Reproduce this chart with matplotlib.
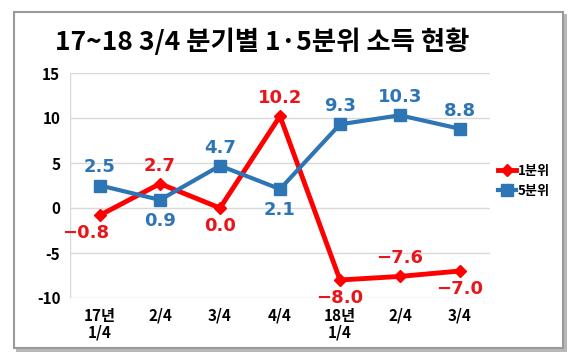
import matplotlib.pyplot as plt
from matplotlib.patches import Rectangle

plt.rcParams['font.family'] = ['Noto Sans CJK KR', 'DejaVu Sans']
plt.rcParams['axes.unicode_minus'] = False

# data
quarters = ['17년\n1/4', '2/4', '3/4', '4/4', '18년\n1/4', '2/4', '3/4']
q1 = [-0.8, 2.7, 0.0, 10.2, -8.0, -7.6, -7.0]
q5 = [2.5, 0.9, 4.7, 2.1, 9.3, 10.3, 8.8]
q1_pos = ['below', 'above', 'below', 'above', 'below', 'above', 'below']
q5_pos = ['above', 'below', 'above', 'below', 'above', 'above', 'above']

red = '#FF0000'
blue = '#2E75B6'

fig = plt.figure(figsize=(5.8, 3.59), dpi=100)

# outer frame with shadow
fig.patches.append(Rectangle((16 / 580, 1 - 352 / 359), 551 / 580, 338 / 359,
                             transform=fig.transFigure, facecolor='#B8B8B8',
                             edgecolor='none', zorder=-2))
fig.patches.append(Rectangle((14 / 580, 1 - 348 / 359), 549 / 580, 336 / 359,
                             transform=fig.transFigure, facecolor='white',
                             edgecolor='#9A9A9A', linewidth=1.5, zorder=-1))

ax = fig.add_axes([70 / 580, 1 - 298 / 359, 420 / 580, 225 / 359])
ax.set_zorder(2)
ax.set_facecolor('none')
x = range(len(quarters))
ax.plot(x, q1, color=red, lw=3.5, marker='D', ms=6.5, label='1분위', zorder=3)
ax.plot(x, q5, color=blue, lw=3.0, marker='s', ms=8.5, label='5분위', zorder=3)

def fmt(v):
    return f'{v:.1f}'.replace('-', '−')

lab_font = ['DejaVu Sans']
for i, (v, p) in enumerate(zip(q1, q1_pos)):
    dy = 13 if p == 'above' else -13
    dx = -10 if i == 0 else 0
    ax.annotate(fmt(v), (i, v), xytext=(dx, dy), textcoords='offset points',
                ha='center', va='center', color='#E8161B', fontsize=13,
                fontweight='bold', family=lab_font)
for i, (v, p) in enumerate(zip(q5, q5_pos)):
    dy = 13 if p == 'above' else -15
    ax.annotate(fmt(v), (i, v), xytext=(0, dy), textcoords='offset points',
                ha='center', va='center', color='#2E75B6', fontsize=13,
                fontweight='bold', family=lab_font)

ax.set_xlim(-0.5, 6.5)
ax.set_ylim(-10, 15)
ax.set_yticks([-10, -5, 0, 5, 10, 15])
ax.set_xticks(list(x))
ax.set_xticklabels(quarters, fontsize=11, fontweight='bold', linespacing=1.05)
for t in ax.get_yticklabels():
    t.set_fontweight('bold')
    t.set_fontsize(11)
ax.grid(axis='y', color='#D9D9D9', lw=1)
ax.tick_params(length=0, pad=7)
for s in ax.spines.values():
    s.set_visible(False)
ax.axvline(-0.5, color='#D9D9D9', lw=1, zorder=0)

leg = ax.legend(loc='center left', bbox_to_anchor=(0.99, 0.52), frameon=False,
                handlelength=1.4, handletextpad=0.1, labelspacing=0.45,
                prop={'weight': 'bold', 'size': 9.5})

fig.text(262 / 580, 1 - 42 / 359, '17~18 3/4 분기별 1·5분위 소득 현황', ha='center',
         va='center', fontsize=19, fontweight='bold')

fig.savefig('out.png', dpi=100)
